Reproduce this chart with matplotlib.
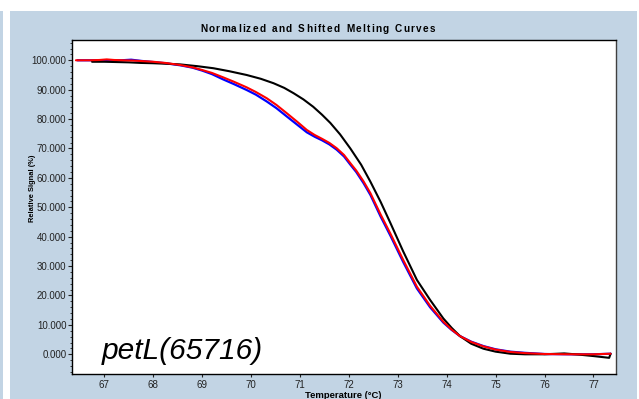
import matplotlib
matplotlib.use('Agg')
import matplotlib.pyplot as plt
from matplotlib.patches import Rectangle
from matplotlib.ticker import MultipleLocator, FormatStrFormatter

# Melting curve data (temperature in degC, relative signal in %)
temp_red = [66.42, 66.7, 66.9, 67.05, 67.2, 67.4, 67.6, 67.8, 68.0, 68.25, 68.55, 68.8,
            69.0, 69.2, 69.43, 69.65, 69.91, 70.1, 70.32, 70.52, 70.73, 70.95, 71.14,
            71.3, 71.45, 71.6, 71.75, 71.9, 72.03, 72.15, 72.3, 72.44, 72.65, 72.85,
            73.11, 73.39, 73.66, 73.93, 74.1, 74.27, 74.5, 74.75, 75.0, 75.3, 75.6,
            76.0, 76.5, 77.0, 77.35]
signal_red = [100.0, 100.0, 100.1, 100.3, 100.1, 100.0, 99.9, 99.7, 99.5, 99.1, 98.4, 97.6,
              96.7, 95.7, 94.2, 92.7, 90.8, 89.2, 87.1, 84.8, 82.0, 79.0, 76.3,
              74.6, 73.3, 71.9, 70.1, 67.8, 65.0, 62.5, 58.8, 54.8, 47.5, 41.0,
              32.1, 23.0, 16.5, 11.1, 8.4, 6.2, 4.2, 2.7, 1.6, 0.8, 0.4,
              0.1, 0.0, 0.0, 0.2]

temp_blue = [66.45, 66.8, 67.1, 67.35, 67.55, 67.75, 68.0, 68.25, 68.55, 68.8, 69.0, 69.2,
             69.43, 69.65, 69.91, 70.1, 70.32, 70.52, 70.73, 70.95, 71.14, 71.3, 71.45,
             71.6, 71.75, 71.9, 72.03, 72.15, 72.3, 72.44, 72.65, 72.85, 73.11, 73.39,
             73.66, 73.93, 74.1, 74.27, 74.5, 74.75, 75.0, 75.3, 75.6, 76.0, 76.5, 77.0,
             77.35]
signal_blue = [100.0, 100.0, 100.0, 100.0, 100.2, 99.8, 99.4, 99.0, 98.3, 97.5, 96.5, 95.3,
               93.5, 91.9, 89.9, 88.3, 86.0, 83.7, 80.9, 78.0, 75.5, 74.0, 72.8,
               71.4, 69.6, 67.3, 64.5, 62.0, 58.2, 54.2, 46.8, 40.3, 31.4, 22.4,
               16.0, 10.8, 8.3, 6.2, 4.3, 2.8, 1.7, 0.9, 0.5, 0.1, 0.0, 0.0,
               0.2]

temp_black = [66.75, 67.0, 67.25, 67.5, 67.75, 68.0, 68.3, 68.55, 68.9, 69.23, 69.55,
              69.91, 70.2, 70.46, 70.68, 70.87, 71.07, 71.27, 71.45, 71.62, 71.82, 72.03,
              72.25, 72.44, 72.65, 72.85, 73.11, 73.39, 73.66, 73.93, 74.1, 74.27, 74.5,
              74.75, 75.0, 75.3, 75.6, 76.0, 76.4, 76.7, 77.0, 77.32, 77.35]
signal_black = [99.5, 99.5, 99.4, 99.3, 99.1, 99.0, 98.8, 98.6, 98.0, 97.3, 96.3,
                95.0, 93.7, 92.2, 90.6, 88.8, 86.7, 84.2, 81.5, 78.7, 74.8, 70.0,
                64.5, 58.7, 51.8, 44.6, 35.0, 25.3, 18.5, 12.2, 9.0, 6.2, 3.6,
                1.9, 0.9, 0.2, 0.0, 0.0, 0.3, -0.1, -0.6, -1.2, 0.2]

x_ticks = [67, 68, 69, 70, 71, 72, 73, 74, 75, 76, 77]
y_ticks = [0, 10, 20, 30, 40, 50, 60, 70, 80, 90, 100]
title = 'Normalized and Shifted Melting Curves'
sample_label = 'petL(65716)'

W, H = 639, 399
panel_blue = '#C2D4E4'

fig = plt.figure(figsize=(W / 100, H / 100), dpi=100, facecolor=panel_blue)

# white frame strips around the panel
for x0, y0, w, h in [(0, H - 11, W, 11), (3, 0, 7, H), (637, 0, 2, H)]:
    fig.patches.append(Rectangle((x0 / W, y0 / H), w / W, h / H, transform=fig.transFigure,
                                 facecolor='white', edgecolor='none', zorder=-1))

ax = fig.add_axes([72 / W, (H - 374) / H, 544 / W, 334 / H])
ax.set_facecolor('white')

line_kw = dict(solid_joinstyle='round', solid_capstyle='round')
ax.plot(temp_blue, signal_blue, color='#0000FF', lw=1.6, zorder=2, **line_kw)
ax.plot(temp_black, signal_black, color='black', lw=1.5, zorder=3, **line_kw)
ax.plot(temp_red, signal_red, color='#FF0000', lw=1.5, zorder=4, **line_kw)

ax.set_xlim(66.34, 77.46)
ax.set_ylim(-6.7, 106.9)

ax.set_xticks(x_ticks)
ax.set_yticks(y_ticks)
ax.yaxis.set_minor_locator(MultipleLocator(2))
ax.yaxis.set_major_formatter(FormatStrFormatter('%.3f'))

for lab in ax.get_xticklabels() + ax.get_yticklabels():
    lab.set_fontfamily('Liberation Sans')
    lab.set_fontsize(7.0)
    lab.set_color('#222222')
ax.tick_params(axis='y', which='major', direction='out', length=3, width=0.8,
               pad=1, colors='#222222')
ax.tick_params(axis='y', which='minor', direction='out', length=1.5, width=0.6,
               color='#222222')
ax.tick_params(axis='x', which='major', direction='out', length=2.5, width=0.8,
               pad=2, colors='#222222')

for side in ['left', 'bottom', 'top']:
    ax.spines[side].set_linewidth(1.0)
    ax.spines[side].set_color('black')
ax.spines['right'].set_linewidth(1.0)
ax.spines['right'].set_color('#404040')

# axis titles
fig.text(343 / W, 1 - 395 / H, 'Temperature (\u00b0C)', ha='center', va='center',
         fontsize=6.8, fontweight='bold', family=['Liberation Sans', 'DejaVu Sans'])
fig.text(33 / W, 1 - 188 / H, 'Relative Signal (%)', ha='center', va='center',
         rotation=90, fontsize=5.4, fontweight='bold', family='Liberation Sans')

ax.text(0.055, 0.045, sample_label, transform=ax.transAxes, ha='left', va='baseline',
        fontsize=21.5, style='italic', family='Liberation Sans', color='black')

# letter-spaced title, laid out one glyph at a time
renderer = fig.canvas.get_renderer()
title_kw = dict(fontsize=7.2, fontweight='bold', family='Liberation Sans',
                va='center', ha='left')
glyphs = []
widths = []
for ch in title:
    t = fig.text(0, 0, ch if ch != ' ' else 'n', **title_kw)
    w = t.get_window_extent(renderer).width
    if ch == ' ':
        t.set_text('')
        w *= 0.6
    glyphs.append(t)
    widths.append(w)
tracking = (235.0 - sum(widths)) / (len(title) - 1)
x = 200.0
for t, w in zip(glyphs, widths):
    t.set_position((x / W, 1 - 28.5 / H))
    x += w + tracking

fig.savefig('out.png', dpi=100, facecolor=fig.get_facecolor())
